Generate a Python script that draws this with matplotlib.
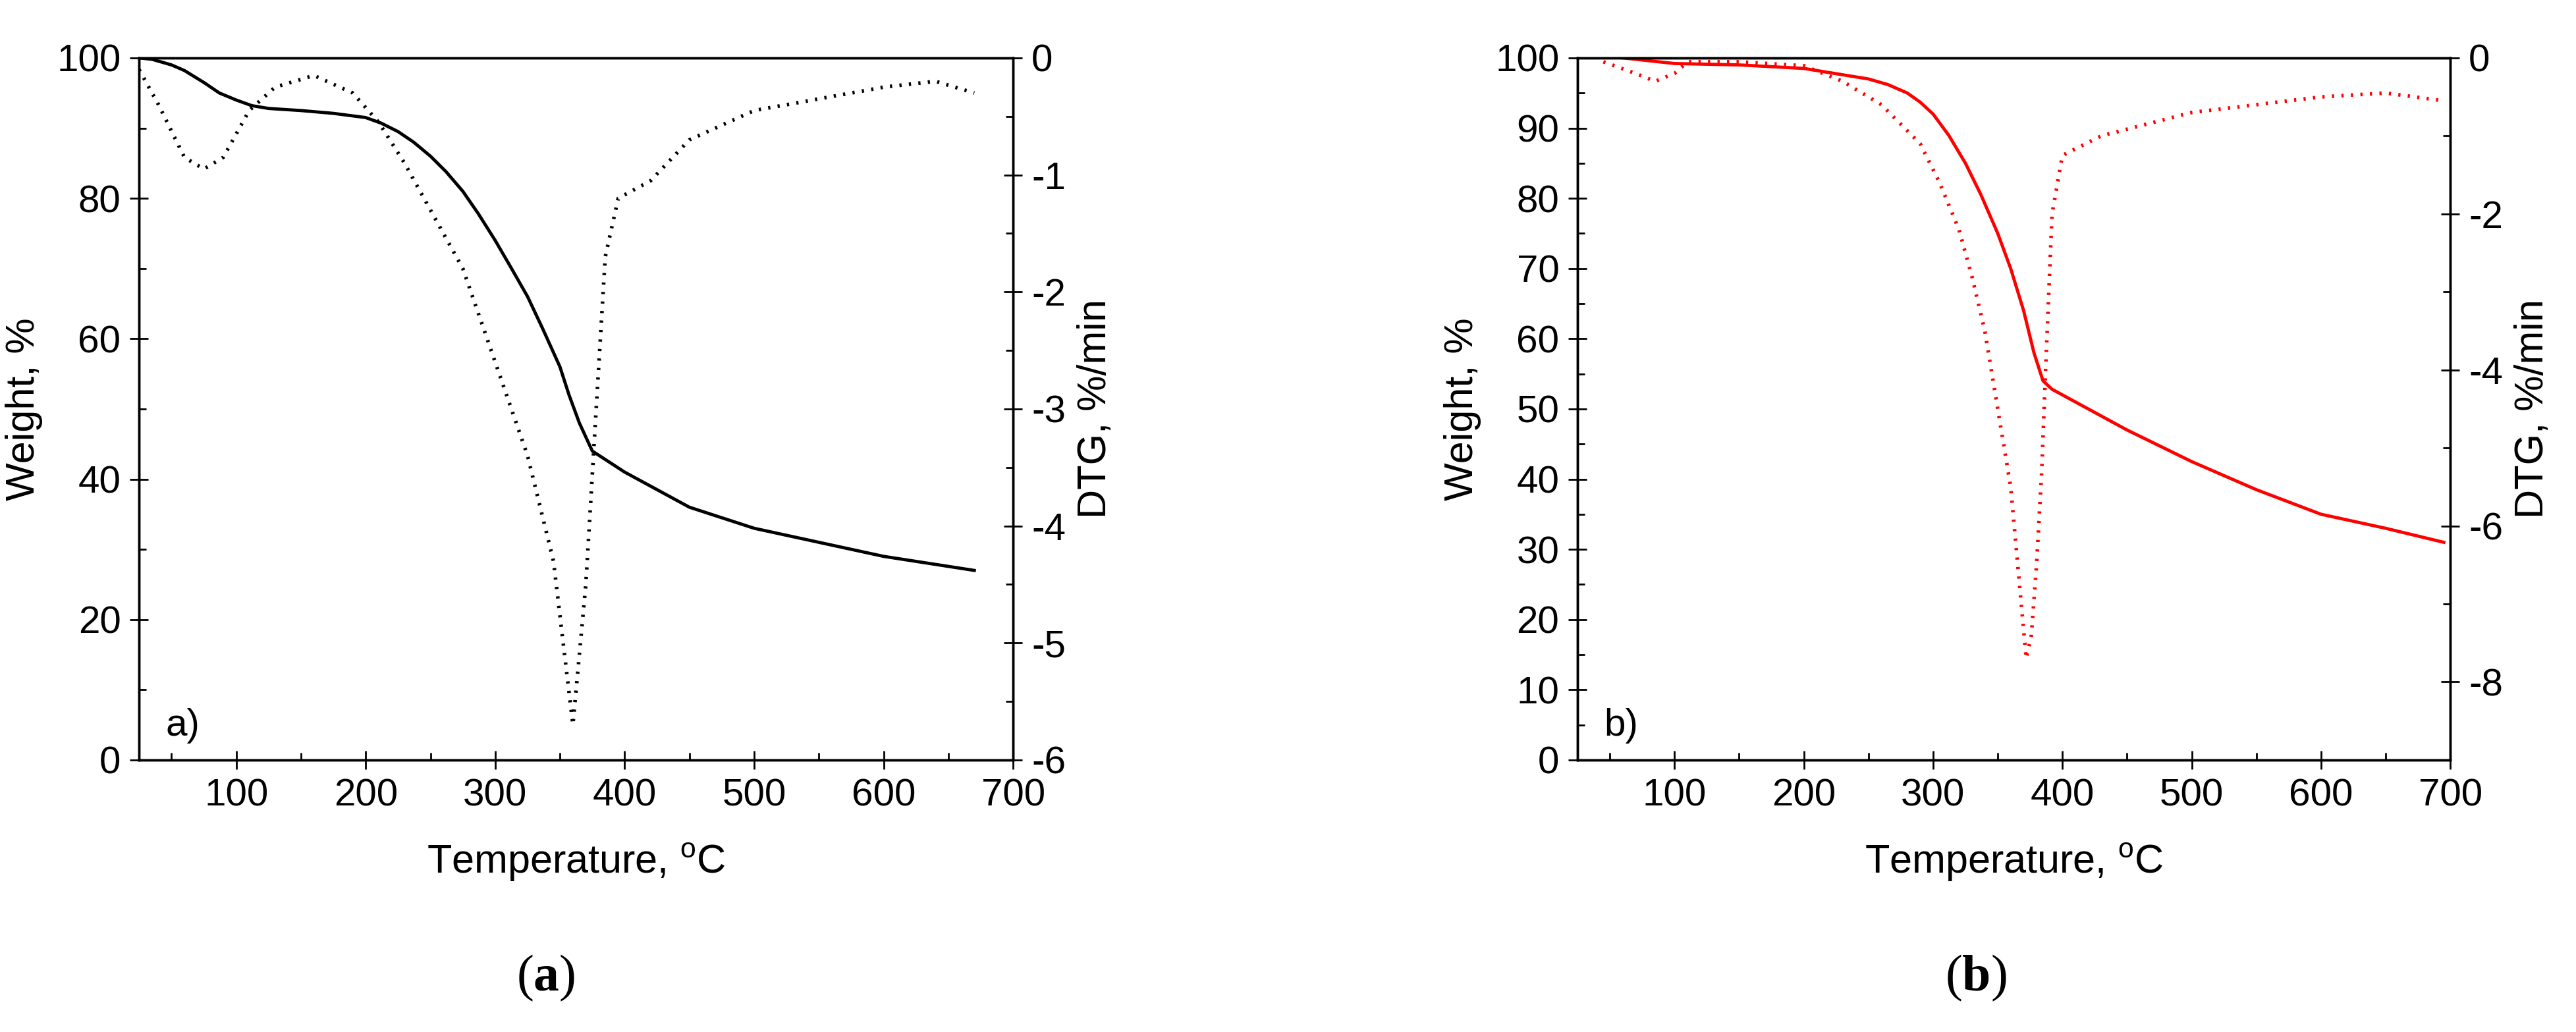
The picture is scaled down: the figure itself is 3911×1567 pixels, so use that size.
import matplotlib
matplotlib.use("Agg")
import matplotlib.pyplot as plt
from matplotlib.ticker import MultipleLocator

plt.rcParams['font.family'] = ['Liberation Sans', 'DejaVu Sans']
plt.rcParams['axes.unicode_minus'] = False
plt.rcParams['mathtext.fontset'] = 'custom'
plt.rcParams['mathtext.rm'] = 'Liberation Sans'
plt.rcParams['mathtext.bf'] = 'Liberation Serif:bold'

# Panel a
a_tg_T = [25, 35, 50, 60, 75, 87, 100, 112, 125, 150, 175, 200, 212, 225, 237, 250, 262, 275, 287, 300, 312, 325, 337, 350, 357, 365, 375, 400, 450, 500, 550, 600, 670]
a_tg_W = [100, 99.8, 99, 98.2, 96.5, 95, 94, 93.2, 92.8, 92.5, 92.1, 91.5, 90.7, 89.5, 88, 86, 83.8, 81, 77.8, 74, 70.2, 66, 61.3, 56, 52, 48, 44, 41, 36, 33, 31, 29, 27]
a_dtg_T = [25, 40, 60, 75, 90, 110, 130, 160, 190, 210, 230, 250, 275, 300, 325, 345, 360, 370, 378, 385, 395, 420, 450, 500, 550, 600, 640, 670]
a_dtg_V = [-0.1, -0.4, -0.85, -0.95, -0.85, -0.45, -0.25, -0.15, -0.3, -0.55, -0.9, -1.3, -1.8, -2.6, -3.4, -4.3, -5.7, -4.5, -3.0, -1.7, -1.2, -1.05, -0.7, -0.45, -0.35, -0.25, -0.2, -0.3]
# Panel b
b_tg_T = [60, 100, 150, 200, 250, 265, 280, 290, 300, 312, 325, 337, 350, 360, 370, 378, 385, 392, 400, 450, 500, 550, 600, 650, 695]
b_tg_W = [100, 99.2, 99, 98.5, 97, 96.2, 95, 93.7, 92, 89, 85, 80.5, 75, 70, 64, 58, 54, 52.8, 52, 47, 42.5, 38.5, 35, 33, 31]
b_dtg_T = [45, 70, 85, 100, 110, 150, 200, 230, 240, 260, 275, 290, 305, 320, 330, 340, 350, 360, 366, 372, 376, 380, 384, 387, 392, 400, 430, 500, 600, 650, 695]
b_dtg_V = [-0.05, -0.2, -0.3, -0.2, -0.05, -0.05, -0.1, -0.3, -0.4, -0.6, -0.85, -1.1, -1.6, -2.2, -2.8, -3.5, -4.5, -5.5, -6.6, -7.7, -7.4, -6.5, -5.3, -4.0, -2.0, -1.25, -1.0, -0.7, -0.5, -0.45, -0.55]

fig = plt.figure(figsize=(39.11, 15.67), dpi=100)
FS = 42
LFS = 44

def panel(rect, tgT, tgW, dT, dV, color, ylim1, ymaj1, ymin1, ylim2, ymaj2, ymin2, tag, cap, capx):
    ax = fig.add_axes(rect)
    ax.plot(tgT, tgW, color=color, lw=3.5)
    ax.set_xlim(25, 700)
    ax.set_ylim(*ylim1)
    ax.xaxis.set_minor_locator(MultipleLocator(50))
    ax.yaxis.set_major_locator(MultipleLocator(ymaj1))
    ax.yaxis.set_minor_locator(MultipleLocator(ymin1))
    ax.set_xticks([100, 200, 300, 400, 500, 600, 700])
    ax.tick_params(which='major', direction='inout', length=20, width=2, labelsize=FS, pad=10)
    ax.tick_params(which='minor', direction='in', length=8, width=2)
    for s in ax.spines.values():
        s.set_linewidth(2.5)
    ax.set_xlabel('Temperature, $^{\\mathrm{o}}$C', fontsize=LFS, labelpad=30)
    ax.set_ylabel('Weight, %', fontsize=LFS, labelpad=15)
    ax.text(0.03, 0.035, tag, transform=ax.transAxes, fontsize=FS)
    ax2 = ax.twinx()
    ax2.plot(dT, dV, color=color, lw=4, linestyle=(0, (0.6, 2.0)))
    ax2.set_ylim(*ylim2)
    ax2.yaxis.set_major_locator(MultipleLocator(ymaj2))
    ax2.yaxis.set_minor_locator(MultipleLocator(ymin2))
    ax2.tick_params(which='major', direction='inout', length=20, width=2, labelsize=FS, pad=10)
    ax2.tick_params(which='minor', direction='in', length=8, width=2)
    for s in ax2.spines.values():
        s.set_linewidth(2.5)
    ax2.set_ylabel('DTG, %/min', fontsize=LFS, labelpad=12)
    fig.text(capx, 0.052, '($\\mathbf{' + cap + '}$)', fontsize=56, family='Liberation Serif',
             ha='center', va='center')

panel([0.0540, 0.2636, 0.3393, 0.6803], a_tg_T, a_tg_W, a_dtg_T, a_dtg_V, 'black',
      (0, 100), 20, 10, (-6, 0), 1, 0.5, 'a)', 'a', 0.212)
panel([0.6124, 0.2636, 0.3388, 0.6803], b_tg_T, b_tg_W, b_dtg_T, b_dtg_V, 'red',
      (0, 100), 10, 5, (-9, 0), 2, 1, 'b)', 'b', 0.767)

fig.savefig('out.png', dpi=100)
